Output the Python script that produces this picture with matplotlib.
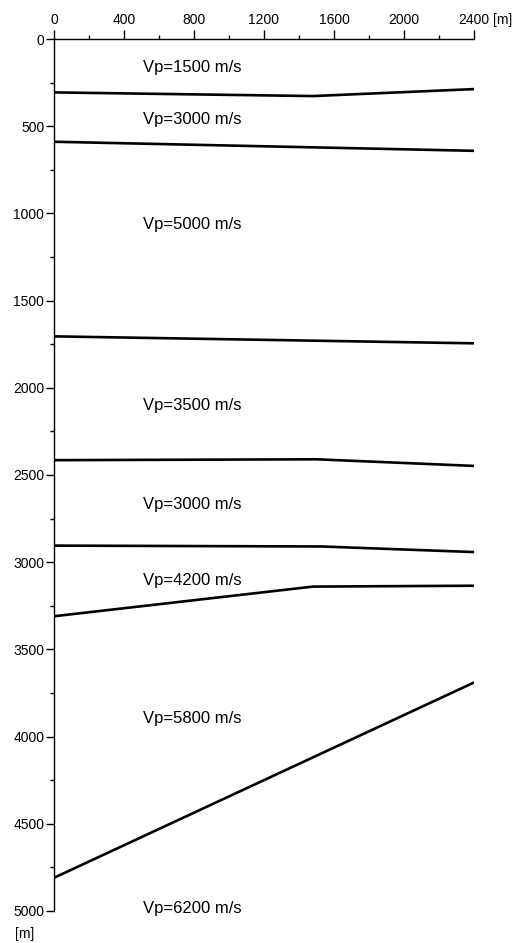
import matplotlib.pyplot as plt
from matplotlib.ticker import MultipleLocator

plt.rcParams['font.family'] = ['Liberation Sans', 'DejaVu Sans']

# layer boundaries: (distance [m], depth [m])
b1_x = [0, 1480, 2400]
b1_z = [306, 327, 287]
b2_x = [0, 2400]
b2_z = [589, 641]
b3_x = [0, 2400]
b3_z = [1705, 1745]
b4_x = [0, 1500, 2400]
b4_z = [2415, 2410, 2448]
b5_x = [0, 1530, 2400]
b5_z = [2905, 2910, 2942]
b6_x = [0, 1480, 2400]
b6_z = [3310, 3140, 3135]
b7_x = [0, 2400]
b7_z = [4810, 3690]

boundaries = [(b1_x, b1_z), (b2_x, b2_z), (b3_x, b3_z), (b4_x, b4_z),
              (b5_x, b5_z), (b6_x, b6_z), (b7_x, b7_z)]

labels = ['Vp=1500 m/s', 'Vp=3000 m/s', 'Vp=5000 m/s', 'Vp=3500 m/s',
          'Vp=3000 m/s', 'Vp=4200 m/s', 'Vp=5800 m/s', 'Vp=6200 m/s']
label_x = 510
label_z = [166, 459, 1061, 2100, 2668, 3104, 3896, 4985]

fig = plt.figure(figsize=(5.2, 9.43), dpi=100)
ax = fig.add_axes([0.1038, 0.034, 0.8077, 0.9246])

for xs, zs in boundaries:
    ax.plot(xs, zs, color='black', lw=1.9, solid_capstyle='butt')

for txt, z in zip(labels, label_z):
    ax.text(label_x, z, txt, fontsize=12, va='center', ha='left')

ax.set_xlim(0, 2400)
ax.set_ylim(5000, 0)

ax.xaxis.set_ticks_position('top')
ax.xaxis.set_label_position('top')
ax.xaxis.set_major_locator(MultipleLocator(400))
ax.xaxis.set_minor_locator(MultipleLocator(200))
ax.yaxis.set_major_locator(MultipleLocator(500))
ax.yaxis.set_minor_locator(MultipleLocator(250))

ax.tick_params(axis='both', which='major', labelsize=10, width=1, length=6, pad=1)
ax.tick_params(axis='x', which='major', length=6.5, pad=2.5)
ax.tick_params(axis='both', which='minor', width=1, length=3)

for side in ['right', 'bottom']:
    ax.spines[side].set_visible(False)
for side in ['left', 'top']:
    ax.spines[side].set_linewidth(1)

# unit labels
ax.annotate('[m]', xy=(2400, 0), xytext=(13.5, 9), textcoords='offset points',
            fontsize=10, ha='left', va='bottom', annotation_clip=False)
ax.text(-170, 5090, '[m]', fontsize=10, ha='center', va='top', clip_on=False)

fig.savefig('out.png', dpi=100)
